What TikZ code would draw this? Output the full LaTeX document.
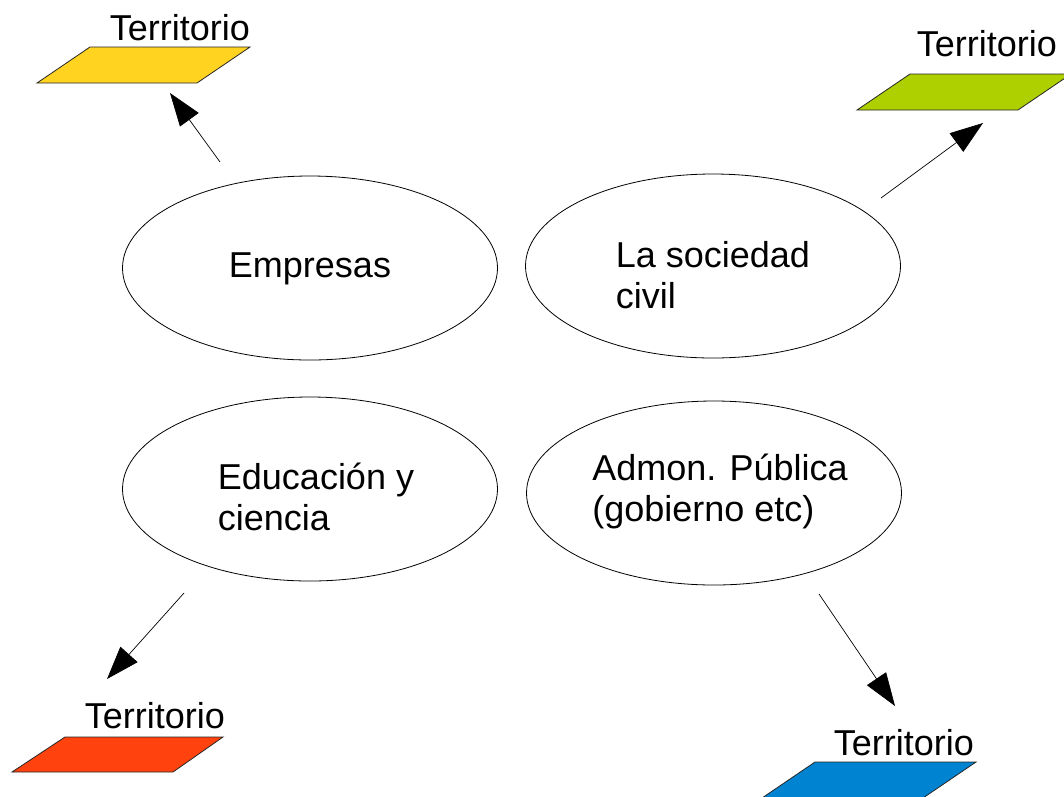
\documentclass[tikz,border=0pt]{standalone}
\usepackage{fontspec}
\setmainfont{Liberation Sans}
\usetikzlibrary{arrows.meta,shapes.geometric}
\definecolor{landYellow}{HTML}{FFD320}
\definecolor{landGreen}{HTML}{AECF00}
\definecolor{landRed}{HTML}{FF420E}
\definecolor{landBlue}{HTML}{0084D1}
\tikzset{
  sector/.style={ellipse, draw, line width=0.8pt, minimum width=375pt, minimum height=184pt, inner sep=0pt},
  sectortext/.style={inner sep=0pt, align=left, font=\fontsize{36}{41}\selectfont},
  land/.style={draw=black!85, line width=0.8pt},
  tag/.style={anchor=base east, inner sep=0pt, font=\fontsize{36}{41}\selectfont},
  flow/.style={-{Triangle[length=33pt,width=23pt]}, line width=0.7pt}
}
\begin{document}
\begin{tikzpicture}[x=1pt,y=-1pt]
    \useasboundingbox (0,0) rectangle (1064,796);
    % the four sectors
    \node (Empresas) [sector] at (310,268) {};
    \node (Sociedad) [sector] at (713,266) {};
    \node (Educacion) [sector] at (310,489) {};
    \node (Admon) [sector] at (714,493) {};
    \node (EmpresasText) [sectortext] at ([yshift=-1pt]Empresas.center) {Empresas};
    \node (SociedadText) [sectortext] at ([yshift=-9pt]Sociedad.center) {La sociedad\\civil};
    \node (EducacionText) [sectortext] at ([xshift=6pt,yshift=-8pt]Educacion.center) {Educaci\'on y\\ciencia};
    \node (AdmonText) [sectortext] at ([xshift=6pt,yshift=2pt]Admon.center) {Admon. P\'ublica\\(gobierno etc)};
    % territories
    \draw[land, fill=landYellow] (37,83) -- (90,47) -- (250,47) -- (197,83) -- cycle;
    \node (EmpresasTerritorio) [tag] at (250,40) {Territorio};
    \draw[land, fill=landGreen] (857,110) -- (910,74) -- (1071,74) -- (1018,110) -- cycle;
    \node (SociedadTerritorio) [tag] at (1057,56) {Territorio};
    \draw[land, fill=landRed] (12,772) -- (65,737) -- (223,737) -- (173,772) -- cycle;
    \node (EducacionTerritorio) [tag] at (225,728) {Territorio};
    \draw[land, fill=landBlue] (762,798) -- (815,762) -- (976,762) -- (923,798) -- cycle;
    \node (AdmonTerritorio) [tag] at (974,755) {Territorio};
    % arrow ends
    \coordinate (EmpresasOut) at (220,162);
    \coordinate (EmpresasIn) at (170,93);
    \coordinate (SociedadOut) at (881,198);
    \coordinate (SociedadIn) at (983,123);
    \coordinate (EducacionOut) at (184,593);
    \coordinate (EducacionIn) at (107,679);
    \coordinate (AdmonOut) at (819,594);
    \coordinate (AdmonIn) at (895,706);
    \draw[flow] (EmpresasOut) -- (EmpresasIn);
    \draw[flow] (SociedadOut) -- (SociedadIn);
    \draw[flow] (EducacionOut) -- (EducacionIn);
    \draw[flow] (AdmonOut) -- (AdmonIn);
\end{tikzpicture}
\end{document}
